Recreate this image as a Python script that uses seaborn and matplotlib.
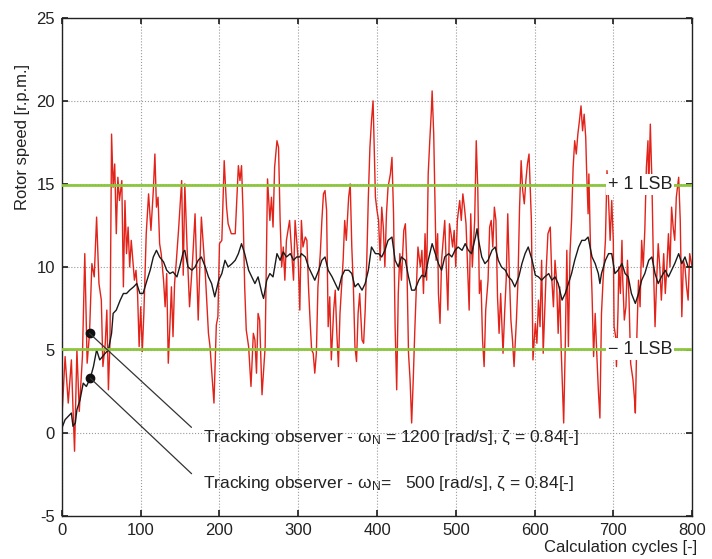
import matplotlib
matplotlib.use("Agg")
import matplotlib.pyplot as plt
import seaborn as sns

# Values
red_x = [0, 4, 8, 12, 14, 16, 19, 22, 26, 29, 32, 35, 38, 41, 44, 47, 50, 52, 55, 57,
         59, 61, 63, 65, 67, 69, 71, 73, 76, 78, 80, 82, 84, 86, 88, 92, 94, 96, 98, 100,
         102, 104, 107, 110, 113, 116, 118, 120, 122, 124, 126, 129, 131, 133, 135, 137, 139, 141, 143, 145,
         148, 152, 154, 156, 159, 162, 166, 169, 173, 177, 182, 186, 188, 190, 193, 196, 198, 200, 203, 206,
         209, 211, 215, 220, 224, 226, 228, 230, 232, 234, 237, 240, 243, 245, 247, 249, 251, 254, 258, 261,
         264, 266, 268, 270, 273, 275, 277, 279, 281, 283, 285, 289, 294, 296, 300, 302, 304, 306, 309, 311,
         313, 315, 317, 319, 321, 323, 325, 328, 330, 332, 334, 336, 338, 340, 342, 345, 347, 349, 351, 353,
         355, 357, 359, 361, 364, 366, 368, 370, 372, 374, 376, 378, 381, 383, 385, 387, 389, 391, 393, 395,
         397, 398, 400, 402, 404, 406, 408, 410, 412, 414, 417, 419, 421, 423, 425, 427, 429, 431, 434, 436,
         438, 440, 442, 444, 446, 448, 450, 452, 455, 457, 459, 461, 463, 465, 467, 469, 470, 472, 474, 475,
         477, 478, 480, 482, 484, 486, 488, 490, 492, 494, 496, 498, 500, 502, 505, 507, 509, 511, 513, 515,
         517, 519, 521, 524, 526, 528, 530, 532, 534, 536, 538, 541, 543, 545, 547, 549, 551, 553, 555, 557,
         560, 562, 564, 566, 568, 570, 572, 574, 577, 579, 581, 583, 585, 587, 589, 591, 593, 596, 598, 601,
         603, 605, 607, 609, 611, 613, 615, 617, 620, 622, 624, 626, 628, 630, 632, 634, 637, 639, 641, 643,
         645, 647, 649, 651, 653, 655, 657, 659, 661, 663, 665, 666, 668, 669, 671, 673, 675, 677, 679, 681,
         683, 685, 687, 690, 692, 694, 696, 698, 700, 701, 703, 704, 706, 707, 709, 711, 712, 714, 716, 718,
         720, 722, 725, 727, 728, 730, 732, 734, 736, 738, 740, 742, 744, 745, 747, 749, 751, 753, 755, 757,
         759, 761, 764, 766, 768, 770, 772, 774, 776, 778, 780, 783, 785, 787, 789, 791, 793, 795, 797, 800]
red_y = [1.0, 4.6, 1.8, 4.4, 1.5, -1.1, 5.0, 1.3, 4.6, 10.8, 4.2, 6.0, 10.2, 9.4, 13.0, 9.0, 8.0, 4.0, 5.4, 7.4,
         2.6, 5.5, 18.0, 14.8, 16.2, 12.0, 15.4, 14.0, 15.2, 8.8, 14.0, 10.8, 12.4, 10.0, 11.6, 9.2, 9.8, 8.4, 5.2, 7.6,
         4.9, 7.2, 12.0, 14.4, 12.2, 14.6, 16.8, 13.6, 14.2, 11.4, 10.8, 9.2, 7.6, 9.6, 4.2, 6.4, 8.8, 5.8, 9.0, 10.2,
         12.2, 15.2, 9.5, 15.0, 11.0, 7.6, 10.5, 13.2, 6.8, 13.0, 9.6, 6.0, 5.2, 3.8, 1.8, 6.5, 7.0, 11.4, 11.6, 16.4,
         13.6, 12.6, 12.0, 12.0, 16.1, 15.2, 16.1, 13.2, 8.8, 6.2, 5.2, 2.8, 6.0, 5.6, 3.6, 7.2, 6.8, 2.3, 5.2, 15.3,
         12.8, 14.2, 12.4, 16.0, 17.6, 17.2, 12.8, 10.0, 11.2, 9.2, 11.6, 12.8, 9.2, 12.8, 10.4, 7.4, 12.8, 11.2, 11.8, 11.6,
         8.8, 6.8, 5.0, 4.8, 3.6, 4.8, 8.8, 10.8, 12.8, 14.4, 14.6, 13.4, 6.4, 8.2, 4.4, 7.4, 8.6, 6.0, 4.0, 7.2,
         8.8, 10.4, 12.8, 11.6, 14.2, 15.0, 11.2, 8.8, 5.2, 4.3, 7.2, 8.4, 5.6, 5.4, 7.4, 10.4, 14.2, 17.2, 18.8, 20.0,
         16.2, 14.2, 13.4, 12.8, 10.4, 13.6, 12.4, 10.0, 13.2, 14.8, 15.6, 16.6, 13.2, 6.4, 2.6, 8.4, 10.8, 9.2, 12.2, 12.6,
         10.0, 4.8, 3.2, 0.6, 3.2, 6.2, 8.8, 11.2, 10.0, 11.0, 8.4, 12.0, 9.2, 15.6, 17.6, 19.4, 20.6, 18.0, 12.8, 10.4,
         12.0, 8.4, 6.6, 10.4, 11.6, 12.8, 10.0, 7.4, 12.6, 12.0, 11.2, 12.2, 10.0, 12.8, 14.0, 12.8, 14.4, 13.6, 12.6, 10.0,
         7.4, 13.2, 10.0, 12.8, 17.6, 14.6, 8.4, 9.2, 5.6, 4.0, 7.4, 9.2, 12.4, 12.8, 11.2, 13.6, 12.8, 8.2, 6.0, 8.4,
         4.8, 7.2, 9.2, 13.2, 9.6, 6.8, 5.6, 4.0, 6.8, 9.2, 13.6, 16.4, 14.6, 13.8, 15.2, 16.2, 16.8, 12.8, 4.4, 6.6,
         5.4, 8.0, 6.4, 10.4, 4.8, 7.4, 10.0, 12.0, 12.4, 9.2, 7.6, 10.4, 9.2, 6.0, 8.8, 4.8, 0.6, 5.2, 11.0, 5.2,
         10.8, 12.8, 16.0, 17.6, 16.8, 18.0, 18.8, 19.7, 18.2, 19.2, 17.8, 16.0, 13.2, 15.6, 11.2, 8.4, 4.6, 7.2, 4.8, 2.6,
         0.9, 7.2, 9.2, 11.6, 15.8, 14.0, 11.6, 14.0, 11.6, 6.4, 5.8, 4.0, 7.4, 10.0, 8.4, 11.6, 9.2, 6.8, 7.6, 10.4,
         8.0, 4.2, 3.2, 2.0, 1.2, 6.0, 9.2, 7.6, 11.6, 10.0, 12.2, 16.0, 17.6, 14.6, 18.6, 15.2, 10.0, 6.4, 9.2, 11.4,
         10.0, 8.0, 10.8, 8.4, 10.0, 12.0, 10.0, 13.6, 12.4, 11.6, 14.2, 15.4, 12.8, 7.0, 10.4, 10.0, 8.8, 8.0, 10.8, 10.0]

black_x = [0, 4, 8, 12, 14, 17, 19, 23, 27, 31, 36, 40, 44, 48, 55, 59, 63, 65, 69, 74,
           78, 82, 86, 91, 95, 99, 103, 108, 112, 116, 120, 124, 129, 133, 137, 141, 146, 150, 154, 156,
           160, 165, 169, 173, 177, 182, 186, 190, 194, 199, 203, 207, 211, 216, 220, 224, 228, 232, 237, 241,
           245, 249, 254, 256, 260, 264, 268, 273, 277, 281, 285, 290, 294, 298, 302, 304, 309, 313, 317, 321,
           326, 330, 334, 338, 343, 347, 351, 355, 359, 364, 368, 372, 376, 381, 385, 389, 393, 398, 402, 406,
           410, 414, 419, 423, 427, 431, 436, 440, 444, 448, 453, 457, 461, 465, 470, 474, 478, 482, 486, 491,
           495, 499, 503, 508, 512, 516, 520, 525, 527, 529, 533, 537, 541, 546, 550, 554, 558, 563, 567, 571,
           575, 580, 584, 588, 592, 597, 601, 605, 609, 613, 618, 622, 626, 630, 635, 639, 643, 647, 651, 656,
           660, 664, 668, 673, 677, 681, 683, 685, 690, 694, 698, 702, 706, 711, 715, 719, 723, 728, 732, 736,
           740, 745, 749, 753, 757, 761, 766, 770, 774, 778, 783, 787, 791, 795, 800]
black_y = [0.3, 0.8, 1.0, 1.2, 0.4, 0.6, 1.4, 2.0, 3.0, 2.8, 3.3, 4.0, 5.0, 4.4, 4.8, 5.0, 6.0, 7.2, 7.4, 8.0,
           8.4, 8.4, 8.6, 8.8, 9.0, 8.4, 8.4, 9.2, 9.8, 10.6, 11.0, 10.6, 10.3, 9.8, 9.6, 9.7, 9.4, 10.1, 10.9, 11.0,
           10.0, 9.8, 10.0, 10.4, 10.6, 10.0, 9.4, 9.0, 8.2, 9.2, 9.6, 10.4, 10.0, 10.2, 10.4, 10.8, 11.4, 10.8, 9.8, 9.4,
           9.0, 9.4, 8.4, 8.1, 9.2, 9.6, 9.4, 10.8, 10.4, 10.9, 10.6, 10.8, 10.4, 10.6, 10.6, 10.8, 10.6, 10.0, 9.6, 9.2,
           9.8, 10.4, 10.6, 9.8, 9.4, 9.0, 8.6, 9.4, 9.8, 9.8, 9.6, 8.8, 9.0, 8.6, 9.0, 9.8, 11.2, 10.8, 10.8, 10.6,
           11.0, 11.6, 11.8, 10.4, 10.0, 10.6, 10.4, 9.4, 8.6, 8.6, 9.2, 9.5, 9.4, 10.4, 11.4, 10.8, 10.2, 9.8, 10.6, 10.8,
           10.6, 11.0, 11.2, 11.0, 11.4, 11.0, 10.8, 11.8, 12.3, 11.6, 10.6, 10.2, 10.4, 11.0, 11.2, 10.4, 10.0, 9.8, 9.4, 9.2,
           8.8, 9.4, 10.2, 10.8, 11.2, 10.4, 9.5, 9.4, 9.2, 9.4, 9.6, 9.2, 9.4, 9.0, 8.0, 8.4, 9.0, 9.6, 10.4, 11.2,
           11.6, 11.6, 11.8, 10.6, 10.2, 9.6, 9.0, 9.6, 10.4, 10.8, 10.8, 9.6, 9.8, 10.2, 9.6, 9.4, 8.4, 7.8, 8.4, 9.2,
           9.6, 10.4, 10.6, 9.6, 9.0, 9.4, 9.8, 9.4, 9.8, 10.2, 10.8, 10.2, 10.6, 10.0, 10.0]

lsb_levels = [14.95, 5.05]
lsb_labels = ["+ 1 LSB", "\u2212 1 LSB"]

label_fast = r"Tracking observer - $\mathrm{\omega}_\mathrm{N}$ = 1200 [rad/s], ζ = 0.84[-]"
label_slow = r"Tracking observer - $\mathrm{\omega}_\mathrm{N}$=   500 [rad/s], ζ = 0.84[-]"

sns.set_theme(style="ticks")
plt.rcParams["font.family"] = ["Liberation Sans", "DejaVu Sans"]
plt.rcParams["mathtext.fontset"] = "custom"
plt.rcParams["mathtext.rm"] = "Liberation Sans"
plt.rcParams["mathtext.it"] = "Liberation Sans:italic"
plt.rcParams["axes.unicode_minus"] = False

fig = plt.figure(figsize=(7.12, 5.59), dpi=100)
ax = fig.add_axes([0.087, 0.077, 0.885, 0.891])

sns.lineplot(x=red_x, y=red_y, ax=ax, color="#e2231a", lw=1.0, estimator=None, sort=False, zorder=2)
sns.lineplot(x=black_x, y=black_y, ax=ax, color="#1a1a1a", lw=1.0, estimator=None, sort=False, zorder=3)

for lvl, lab in zip(lsb_levels, lsb_labels):
    ax.axhline(lvl, color="#8cc63f", lw=2.0, zorder=4)
    ax.text(734, lvl, lab, fontsize=13, color="#222222", ha="center", va="center", zorder=6,
            bbox=dict(facecolor="white", edgecolor="none", pad=1.5))

# leader lines with dots
i_fast = red_x.index(35)
i_slow = black_x.index(36)
for xi, yi, lab, ty in [(red_x[i_fast], red_y[i_fast], label_fast, -0.3),
                        (black_x[i_slow], black_y[i_slow], label_slow, -3.1)]:
    ax.plot([xi], [yi], "o", color="#111111", ms=6, zorder=7)
    ax.annotate(lab, xy=(xi, yi), xytext=(179, ty), fontsize=12.5, ha="left", va="center",
                color="#222222", zorder=7,
                arrowprops=dict(arrowstyle="-", color="#333333", lw=0.9,
                                shrinkA=8, shrinkB=0, relpos=(0, 0.5)))

ax.set_xlim(0, 800)
ax.set_ylim(-5, 25)
ax.set_xticks(range(0, 801, 100))
ax.set_yticks(range(-5, 26, 5))
ax.tick_params(direction="in", top=True, right=True, length=4, labelsize=12, pad=5, colors="#222222")
ax.grid(True, ls=":", color="#999999", lw=0.8)
for sp in ax.spines.values():
    sp.set_color("#222222")
    sp.set_linewidth(1.0)

ax.set_xlabel("")
ax.set_ylabel("")
ax.text(1.008, -0.064, "Calculation cycles [-]", transform=ax.transAxes, ha="right", va="center",
        fontsize=12, color="#222222")
ax.text(-0.063, 0.76, "Rotor speed [r.p.m.]", transform=ax.transAxes, ha="center", va="center",
        rotation=90, fontsize=12, color="#222222")

fig.savefig("out.png", dpi=100)
